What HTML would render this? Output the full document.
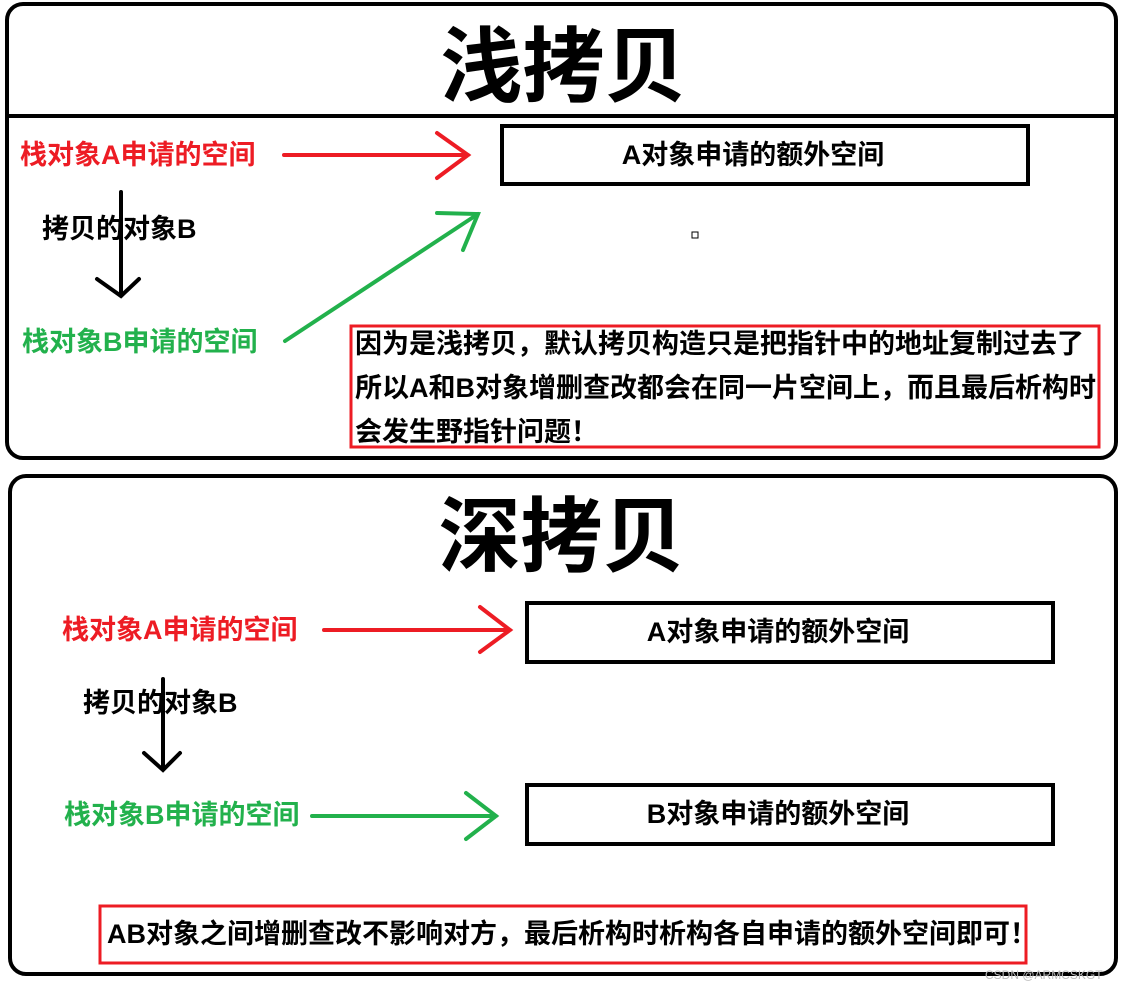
<!DOCTYPE html>
<html><head><meta charset="utf-8"><style>
body{margin:0;width:1123px;height:992px;background:#fff;position:relative;overflow:hidden;font-family:"Liberation Sans","Noto Sans CJK SC",sans-serif;font-weight:bold}
.t{position:absolute;white-space:nowrap;font-size:27px;line-height:30px}
.r{color:#ed1c24}.g{color:#22b14c}
</style></head><body>
<svg width="1123" height="992" style="position:absolute;left:0;top:0" fill="none" stroke-linecap="round">
<rect x="7" y="4" width="1109" height="454" rx="16" stroke="#000" stroke-width="4"/>
<line x1="7" y1="116" x2="1116" y2="116" stroke="#000" stroke-width="4"/>
<rect x="502" y="126" width="526" height="58" stroke="#000" stroke-width="4"/>
<path d="M284 155H468M437 133L468 155L437 178" stroke="#ed1c24" stroke-width="4"/>
<path d="M121 192V296M97 279L121 296L139 279" stroke="#000" stroke-width="4"/>
<path d="M285 341L478 214M437 213L478 214L463 250" stroke="#22b14c" stroke-width="4"/>
<rect x="692" y="232" width="6" height="6" stroke="#000" stroke-width="1"/>
<rect x="351" y="326" width="748" height="121" stroke="#ed1c24" stroke-width="3"/>
<rect x="10" y="476" width="1106" height="498" rx="16" stroke="#000" stroke-width="4"/>
<rect x="527" y="603" width="526" height="59" stroke="#000" stroke-width="4"/>
<rect x="527" y="785" width="526" height="59" stroke="#000" stroke-width="4"/>
<path d="M324 630H510M480 607L510 630L480 652" stroke="#ed1c24" stroke-width="4"/>
<path d="M163 679V768M144 753L163 770L180 753" stroke="#000" stroke-width="4"/>
<path d="M312 816H496M466 793L496 816L466 839" stroke="#22b14c" stroke-width="4"/>
<rect x="100" y="906" width="926" height="57" stroke="#ed1c24" stroke-width="3"/>
</svg>
<div class="t" style="left:0;width:1123px;text-align:center;top:20px;font-size:82px;line-height:96px;padding-left:2px">浅拷贝</div>
<div class="t" style="left:490px;width:526px;text-align:center;top:140px">A对象申请的额外空间</div>
<div class="t r" style="left:20px;top:140px">栈对象A申请的空间</div>
<div class="t" style="left:42px;top:214px">拷贝的对象B</div>
<div class="t g" style="left:22px;top:327px">栈对象B申请的空间</div>
<div class="t" style="left:355px;top:322px;font-size:27px;line-height:44px">因为是浅拷贝，默认拷贝构造只是把指针中的地址复制过去了<br>所以A和B对象增删查改都会在同一片空间上，而且最后析构时<br>会发生野指针问题！</div>
<div class="t" style="left:0;width:1123px;text-align:center;top:490px;font-size:82px;line-height:96px">深拷贝</div>
<div class="t" style="left:515px;width:526px;text-align:center;top:617px">A对象申请的额外空间</div>
<div class="t" style="left:515px;width:526px;text-align:center;top:799px">B对象申请的额外空间</div>
<div class="t r" style="left:62px;top:615px">栈对象A申请的空间</div>
<div class="t" style="left:83px;top:688px">拷贝的对象B</div>
<div class="t g" style="left:64px;top:800px">栈对象B申请的空间</div>
<div class="t" style="left:107px;top:919px">AB对象之间增删查改不影响对方，最后析构时析构各自申请的额外空间即可！</div>
<div class="t" style="left:985px;top:967px;font-size:12px;line-height:16px;color:#bbb;font-weight:normal">CSDN @ARMCSKGT</div>
</body></html>
